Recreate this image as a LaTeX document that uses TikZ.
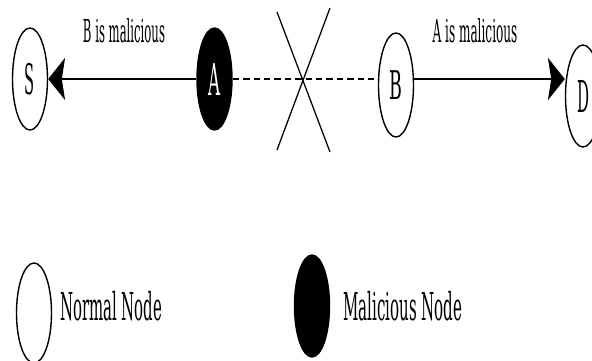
\documentclass[tikz,border=0pt]{standalone}
\usepackage{fontspec}
\setmainfont{DejaVu Serif}
\usepackage{graphicx}
\usepackage{tikz}
\usetikzlibrary{shapes.geometric,arrows.meta,positioning,calc}

% stretched bitmap-like lettering: width, height, text
\newcommand{\tallword}[3]{\resizebox{#1}{#2}{#3}}

\begin{document}
\begin{tikzpicture}[
    x=0.025cm, y=-0.025cm,
    normal/.style={ellipse, draw=black, line width=1pt, fill=white, inner sep=0pt,
                   minimum width=0.875cm, minimum height=2.55cm},
    malicious/.style={normal, fill=black, text=white},
    arr/.style={-{Stealth[length=0.42cm, width=1.05cm, inset=0.08cm]}, line width=2pt},
    broken/.style={line width=1.8pt, dash pattern=on 0.16cm off 0.1cm},
    cut/.style={line width=0.9pt},
    lbl/.style={inner sep=0pt}
]
    \useasboundingbox (0,0) rectangle (592,361);
    \clip (0,0) rectangle (592,361);

    % route S <- A - - B -> D
    \node[normal] (S) at (30,79) {\tallword{0.25cm}{0.78cm}{S}};
    \node[malicious] (A) at (214.5,79) {\tallword{0.3cm}{0.8cm}{A}};
    \node[normal, minimum height=2.6cm] (B) at (396,85) {\tallword{0.32cm}{0.72cm}{B}};
    \node[normal] (D) at (583,96) {\tallword{0.3cm}{0.8cm}{D}};

    \draw[arr] (A.west) -- (S.east);
    \draw[broken] (A.east) -- (B.west |- A.east);
    \draw[arr] (B.east |- A.east) -- (D.west |- A.east);

    % broken link
    \draw[cut] (277,12) -- (330,152);
    \draw[cut] (277,150) -- (330,8);

    \node[lbl] (warnS) at (124,31) {\tallword{2.05cm}{0.6cm}{B is malicious}};
    \node[lbl] (warnD) at (475,31) {\tallword{2.12cm}{0.6cm}{A is malicious}};

    % legend
    \node[normal, minimum height=2.5cm] (keyN) at (34,313) {};
    \node[lbl, anchor=west] (keyNtext) at (60,306) {\tallword{2.55cm}{0.73cm}{Normal Node}};
    \node[malicious] (keyM) at (312,306) {};
    \node[lbl, anchor=west] (keyMtext) at (343,306) {\tallword{2.98cm}{0.73cm}{Malicious Node}};
\end{tikzpicture}
\end{document}
